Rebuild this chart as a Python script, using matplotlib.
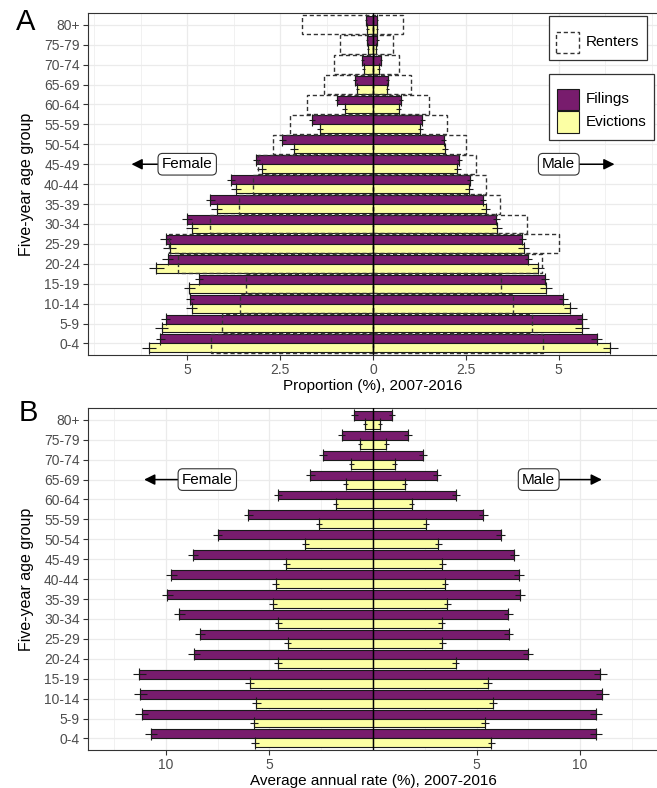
import numpy as np
import matplotlib
matplotlib.use("Agg")
import matplotlib.pyplot as plt
from matplotlib.patches import Rectangle

plt.rcParams["font.family"] = ["Liberation Sans", "DejaVu Sans"]

# age groups, index 0 = "0-4" ... 16 = "80+"
age_groups = ["0-4", "5-9", "10-14", "15-19", "20-24", "25-29", "30-34", "35-39",
              "40-44", "45-49", "50-54", "55-59", "60-64", "65-69", "70-74", "75-79", "80+"]

# panel A: proportion (%), 2007-2016
fem_fil_a = [5.72, 5.58, 4.92, 4.69, 5.53, 5.58, 5.01, 4.38, 3.82, 3.14, 2.44, 1.65, 0.97, 0.49, 0.29, 0.16, 0.19]
fem_evi_a = [6.03, 5.69, 4.88, 4.94, 5.83, 5.47, 4.86, 4.21, 3.69, 3.00, 2.13, 1.42, 0.76, 0.42, 0.25, 0.13, 0.15]
male_fil_a = [6.02, 5.62, 5.12, 4.63, 4.18, 4.02, 3.32, 2.96, 2.62, 2.32, 1.90, 1.33, 0.76, 0.40, 0.21, 0.12, 0.12]
male_evi_a = [6.39, 5.62, 5.31, 4.65, 4.44, 4.06, 3.34, 3.03, 2.58, 2.27, 1.95, 1.27, 0.69, 0.39, 0.16, 0.08, 0.10]
fem_rent_a = [4.37, 4.07, 3.58, 3.41, 5.25, 5.50, 4.39, 3.60, 3.23, 3.10, 2.69, 2.23, 1.77, 1.32, 1.04, 0.89, 1.90]
male_rent_a = [4.58, 4.29, 3.77, 3.45, 4.56, 5.00, 4.15, 3.43, 3.05, 2.77, 2.49, 2.00, 1.51, 1.03, 0.70, 0.53, 0.82]

fem_fil_a_err = [0.13, 0.12, 0.11, 0.11, 0.14, 0.14, 0.13, 0.12, 0.11, 0.10, 0.09, 0.08, 0.06, 0.05, 0.04, 0.03, 0.03]
fem_evi_a_err = [0.20, 0.18, 0.15, 0.15, 0.20, 0.18, 0.16, 0.15, 0.13, 0.12, 0.10, 0.08, 0.07, 0.05, 0.04, 0.03, 0.03]
male_fil_a_err = [0.14, 0.13, 0.12, 0.11, 0.10, 0.10, 0.09, 0.09, 0.08, 0.07, 0.06, 0.06, 0.05, 0.04, 0.03, 0.03, 0.02]
male_evi_a_err = [0.20, 0.19, 0.18, 0.16, 0.16, 0.15, 0.13, 0.12, 0.11, 0.10, 0.08, 0.07, 0.06, 0.05, 0.04, 0.03, 0.03]

# panel B: average annual rate (%), 2007-2016
fem_fil_b = [10.71, 11.17, 11.24, 11.28, 8.64, 8.35, 9.36, 9.93, 9.73, 8.69, 7.50, 6.03, 4.57, 3.02, 2.43, 1.52, 0.90]
fem_evi_b = [5.69, 5.74, 5.63, 5.95, 4.58, 4.12, 4.57, 4.83, 4.69, 4.18, 3.26, 2.62, 1.81, 1.32, 1.04, 0.64, 0.38]
male_fil_b = [10.76, 10.76, 11.08, 10.97, 7.49, 6.55, 6.54, 7.10, 7.06, 6.83, 6.17, 5.33, 4.00, 3.11, 2.42, 1.69, 0.91]
male_evi_b = [5.72, 5.40, 5.80, 5.53, 4.00, 3.35, 3.32, 3.59, 3.47, 3.35, 3.16, 2.56, 1.86, 1.53, 1.05, 0.65, 0.34]

fem_fil_b_err = [0.30, 0.32, 0.32, 0.33, 0.28, 0.26, 0.27, 0.27, 0.26, 0.25, 0.23, 0.22, 0.20, 0.20, 0.20, 0.18, 0.16]
fem_evi_b_err = [0.20, 0.20, 0.20, 0.21, 0.18, 0.17, 0.18, 0.18, 0.17, 0.17, 0.15, 0.14, 0.13, 0.12, 0.11, 0.10, 0.09]
male_fil_b_err = [0.28, 0.29, 0.30, 0.31, 0.25, 0.23, 0.23, 0.24, 0.24, 0.23, 0.22, 0.21, 0.20, 0.19, 0.19, 0.17, 0.15]
male_evi_b_err = [0.19, 0.19, 0.19, 0.20, 0.17, 0.16, 0.16, 0.17, 0.16, 0.16, 0.15, 0.14, 0.13, 0.12, 0.11, 0.10, 0.08]

FIL = "#781C6D"
EVI = "#FCFFA4"
GRID = "#EBEBEB"
TXT = "#4D4D4D"

W, H = 657, 788


def fx(x):
    return x / W


def fy(y):
    return 1 - y / H


fig = plt.figure(figsize=(6.57, 7.88), dpi=100)


def draw_panel(ax, ff, fe, mf, me, ffe, fee, mfe, mee, lim, major, minor, ticklabels, label_x, tip_x, label_y, rent=None):
    y = np.arange(len(age_groups))
    h = 0.45
    ax.barh(y + h / 2, -np.array(ff), height=h, color=FIL, edgecolor="#1a1a1a", lw=0.8, zorder=2)
    ax.barh(y - h / 2, -np.array(fe), height=h, color=EVI, edgecolor="#1a1a1a", lw=0.8, zorder=2)
    ax.barh(y + h / 2, mf, height=h, color=FIL, edgecolor="#1a1a1a", lw=0.8, zorder=2)
    ax.barh(y - h / 2, me, height=h, color=EVI, edgecolor="#1a1a1a", lw=0.8, zorder=2)
    if rent is not None:
        ax.barh(y, -np.array(rent[0]), height=0.95, fill=False, edgecolor="#333333",
                lw=1.0, linestyle=(0, (3, 2)), zorder=4)
        ax.barh(y, rent[1], height=0.95, fill=False, edgecolor="#333333",
                lw=1.0, linestyle=(0, (3, 2)), zorder=4)
    for vals, errs, off, sgn in [(ff, ffe, h / 2, -1), (fe, fee, -h / 2, -1),
                                 (mf, mfe, h / 2, 1), (me, mee, -h / 2, 1)]:
        ax.errorbar(sgn * np.array(vals), y + off, xerr=errs, fmt="|", color="#1a1a1a",
                    ms=9, mew=0.8, elinewidth=0.8, capsize=0, zorder=3)
    ax.axvline(0, color="black", lw=1.0, zorder=5)

    ax.set_xlim(-lim, lim)
    ax.set_ylim(-0.58, 16.58)
    ax.set_yticks(y)
    ax.set_yticklabels(age_groups)
    ax.set_xticks(major)
    ax.set_xticklabels(ticklabels)
    ax.set_xticks(minor, minor=True)
    ax.grid(which="major", color=GRID, lw=0.9, zorder=0)
    ax.grid(which="minor", axis="x", color=GRID, lw=0.5, zorder=0)
    ax.set_axisbelow(True)
    ax.tick_params(which="major", length=3.5, width=0.8, color="#333333",
                   labelcolor=TXT, labelsize=10, pad=2.5)
    ax.tick_params(which="minor", length=0)
    for s in ax.spines.values():
        s.set_color("#333333")
        s.set_linewidth(0.8)
    ax.spines["right"].set_visible(False)

    box = dict(boxstyle="round,pad=0.25,rounding_size=0.3", fc="white", ec="#333333", lw=0.8)
    arrow = dict(arrowstyle="-|>", color="black", lw=1.1, mutation_scale=16, shrinkA=0, shrinkB=0)
    ax.annotate("Female", xy=(-tip_x, label_y), xytext=(-label_x, label_y), ha="center", va="center",
                fontsize=11, bbox=box, arrowprops=arrow, zorder=6)
    ax.annotate("Male", xy=(tip_x, label_y), xytext=(label_x, label_y), ha="center", va="center",
                fontsize=11, bbox=box, arrowprops=arrow, zorder=6)


axA = fig.add_axes([fx(88), fy(355), fx(570), (355 - 13.3) / H])
draw_panel(axA, fem_fil_a, fem_evi_a, male_fil_a, male_evi_a,
           fem_fil_a_err, fem_evi_a_err, male_fil_a_err, male_evi_a_err,
           7.67, [-5, -2.5, 0, 2.5, 5], [-7.5, -6.25, -3.75, -1.25, 1.25, 3.75, 6.25, 7.5],
           ["5", "2.5", "0", "2.5", "5"], 5, 6.5, 9, rent=(fem_rent_a, male_rent_a))

axB = fig.add_axes([fx(88), fy(750), fx(570), (750 - 408.3) / H])
draw_panel(axB, fem_fil_b, fem_evi_b, male_fil_b, male_evi_b,
           fem_fil_b_err, fem_evi_b_err, male_fil_b_err, male_evi_b_err,
           13.76, [-10, -5, 5, 10], [-12.5, -7.5, -2.5, 0, 2.5, 7.5, 12.5],
           ["10", "5", "5", "10"], 8, 11.05, 13)

# titles and axis labels
fig.text(fx(26), fy(22), "A", fontsize=21, ha="center", va="center")
fig.text(fx(28), fy(413), "B", fontsize=21, ha="center", va="center")
fig.text(fx(27), fy(184), "Five-year age group", fontsize=11.5, rotation=90, ha="center", va="center")
fig.text(fx(27), fy(579), "Five-year age group", fontsize=11.5, rotation=90, ha="center", va="center")
fig.text(fx(373), fy(386), "Proportion (%), 2007-2016", fontsize=11, ha="center", va="center")
fig.text(fx(373), fy(781), "Average annual rate (%), 2007-2016", fontsize=11, ha="center", va="center")

# legends
fig.patches.append(Rectangle((fx(549), fy(60)), fx(98), 44 / H, transform=fig.transFigure,
                             fc="white", ec="#333333", lw=0.9))
fig.patches.append(Rectangle((fx(556), fy(53)), fx(23), 21 / H, transform=fig.transFigure,
                             fill=False, ec="#333333", lw=1.0, linestyle=(0, (3, 2))))
fig.text(fx(586), fy(42.5), "Renters", fontsize=11, va="center", ha="left")

fig.patches.append(Rectangle((fx(549), fy(140)), fx(105), 66 / H, transform=fig.transFigure,
                             fc="white", ec="#333333", lw=0.9))
fig.patches.append(Rectangle((fx(556.5), fy(110)), fx(22), 21 / H, transform=fig.transFigure,
                             fc=FIL, ec="#1a1a1a", lw=0.8))
fig.patches.append(Rectangle((fx(556.5), fy(132.5)), fx(22), 21.5 / H, transform=fig.transFigure,
                             fc=EVI, ec="#1a1a1a", lw=0.8))
fig.text(fx(586), fy(99.5), "Filings", fontsize=11, va="center", ha="left")
fig.text(fx(586), fy(122), "Evictions", fontsize=11, va="center", ha="left")

fig.savefig("out.png", dpi=100)
